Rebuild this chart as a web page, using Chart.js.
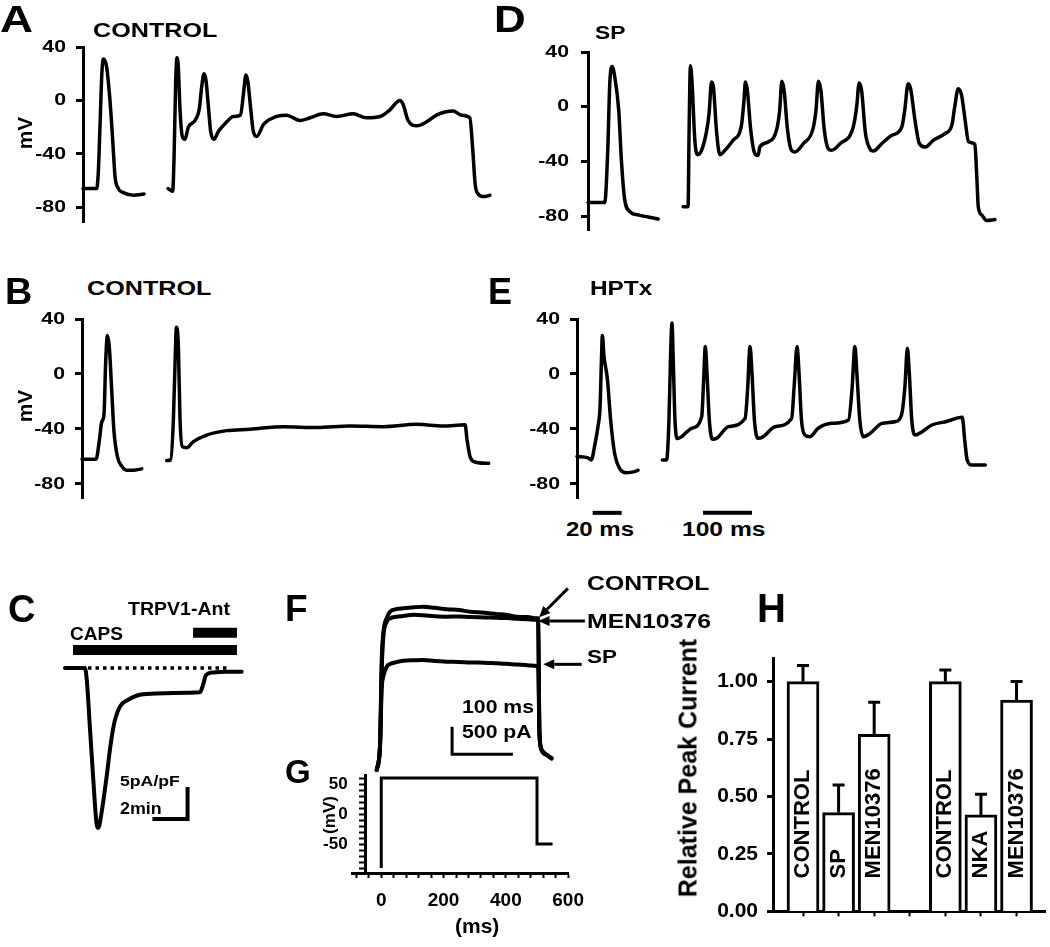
<!DOCTYPE html>
<html>
<head>
<meta charset="utf-8">
<script src="https://cdn.jsdelivr.net/npm/chart.js@4.4.1/dist/chart.umd.min.js"></script>
<style>
  body { margin: 0; background: #fff; }
  #page { position: relative; width: 1050px; height: 947px; overflow: hidden; font-family: 'Liberation Sans', Arial, sans-serif; color: #000; }
  #page canvas { position: absolute; }
  .lbl { position: absolute; font-weight: bold; line-height: 1; white-space: nowrap; transform-origin: 0 0; }
  .rot { position: absolute; font-weight: bold; line-height: 1; white-space: nowrap; transform: translate(-50%, -50%) rotate(-90deg); }
</style>
</head>
<body>
<div id="page">
  <canvas id="chartA" width="500" height="215" style="left:0;top:27px"></canvas>
  <canvas id="chartD" width="500" height="218" style="left:525px;top:32px"></canvas>
  <canvas id="chartB" width="500" height="219" style="left:0;top:299px"></canvas>
  <canvas id="chartE" width="500" height="219" style="left:525px;top:299px"></canvas>
  <canvas id="chartC" width="220" height="250" style="left:40px;top:600px"></canvas>
  <canvas id="chartF" width="260" height="205" style="left:330px;top:570px"></canvas>
  <canvas id="chartG" width="300" height="153" style="left:295px;top:755px"></canvas>
  <canvas id="chartH" width="360" height="296" style="left:690px;top:637px"></canvas>

  <div class="lbl" style="left:0;top:2px;font-size:36px;transform:scaleX(1.27)">A</div>
  <div class="lbl" style="left:93px;top:21px;font-size:19.5px;transform:scaleX(1.29)">CONTROL</div>
  <div class="rot" style="left:24px;top:133px;font-size:21px">mV</div>
  <div class="lbl" style="left:494px;top:2px;font-size:36px;transform:scaleX(1.22)">D</div>
  <div class="lbl" style="left:595px;top:23px;font-size:19px;transform:scaleX(1.2)">SP</div>

  <div class="lbl" style="left:5px;top:274px;font-size:36px;transform:scaleX(1.05)">B</div>
  <div class="lbl" style="left:87px;top:279px;font-size:19.5px;transform:scaleX(1.29)">CONTROL</div>
  <div class="rot" style="left:24px;top:406px;font-size:21px">mV</div>
  <div class="lbl" style="left:488px;top:274px;font-size:36px">E</div>
  <div class="lbl" style="left:590px;top:279px;font-size:19.5px;transform:scaleX(1.25)">HPTx</div>
  <div class="lbl" style="left:566px;top:519px;font-size:20px;transform:scaleX(1.2)">20 ms</div>
  <div class="lbl" style="left:682px;top:519px;font-size:20px;transform:scaleX(1.23)">100 ms</div>

  <div class="lbl" style="left:8px;top:590px;font-size:38px">C</div>
  <div class="lbl" style="left:128px;top:600px;font-size:18px;transform:scaleX(1.085)">TRPV1-Ant</div>
  <div class="lbl" style="left:70px;top:625px;font-size:18px;transform:scaleX(1.06)">CAPS</div>
  <div class="lbl" style="left:120px;top:773px;font-size:15.5px;transform:scaleX(1.14)">5pA/pF</div>
  <div class="lbl" style="left:120px;top:800px;font-size:17px;transform:scaleX(1.05)">2min</div>

  <div class="lbl" style="left:285px;top:590px;font-size:37px">F</div>
  <div class="lbl" style="left:587px;top:572px;font-size:21px;transform:scaleX(1.18)">CONTROL</div>
  <div class="lbl" style="left:587px;top:610px;font-size:21px;transform:scaleX(1.18)">MEN10376</div>
  <div class="lbl" style="left:587px;top:647px;font-size:19px;transform:scaleX(1.18)">SP</div>
  <div class="lbl" style="left:462px;top:698px;font-size:18px;transform:scaleX(1.18)">100 ms</div>
  <div class="lbl" style="left:462px;top:723px;font-size:18px;transform:scaleX(1.18)">500 pA</div>

  <div class="lbl" style="left:285px;top:755px;font-size:33px">G</div>
  <div class="rot" style="left:329px;top:815px;font-size:17px">(mV)</div>
  <div class="lbl" style="left:455px;top:915px;font-size:21px">(ms)</div>

  <div class="lbl" style="left:757px;top:588px;font-size:40px">H</div>
  <div class="rot" style="left:688px;top:768px;font-size:25px">Relative Peak Current</div>
</div>

<script>
// ---- data ----
// membrane potential traces: time (ms) / voltage (mV)
const aShortT = [0, 9.4, 10.5, 11.7, 13, 14, 15, 16.3, 18.6, 20.5, 22.1, 24.4, 27.8, 34.7, 42.1];
const aShortV = [-66, -66, -55, -20, 20, 31, 30, 25, 0, -30, -57, -66, -69, -71, -70];
const aLongT = [0, 9.5, 12.2, 15.6, 18.4, 21, 24.5, 29.3, 34.7, 41.5, 55, 64, 68.7, 73.5, 77.5, 83, 87, 94, 103, 120,
  133, 148, 154, 159, 163, 169, 174, 181, 195, 222, 242, 269, 290, 317, 344, 378, 405, 433, 453, 473,
  480, 490, 508, 528, 548, 582, 599, 616, 622, 627, 633, 644, 657];
const aLongV = [-66, -68, -45, 13, 32, 25, -7, -27, -29, -20, -15, -6, 10, 20, 15, -7, -23, -29, -23, -16,
  -12, -11, 5, 19, 14, -7, -23, -27, -18, -12, -11, -15, -13, -10, -12, -10, -13, -12, -7, 0,
  -3, -15, -19, -16, -11, -8, -11, -13, -37, -63, -70, -72, -71];

const dShortT = [0, 11.5, 13.6, 15, 16.6, 18.4, 21.2, 23, 25.3, 29.4, 34.5, 41.4, 48.3];
const dShortV = [-70, -70, -32, 17, 29.5, 22, -3, -39, -68, -77, -79, -80.5, -82];
const dLongT = [0, 10.2, 12.2, 15, 18.4, 24, 29.3, 37.5, 47.8, 53, 58, 62, 68, 75, 85, 102, 119, 124.5, 127, 131,
  138, 146, 153, 156.5, 173.5, 190.6, 197, 201.4, 206, 213, 221, 228, 245, 265, 271, 276, 281, 288, 296, 303,
  320, 347, 354, 359, 364, 372, 381, 388, 405, 425, 446, 452, 459, 464, 473, 482, 494, 510, 534, 548,
  554, 561, 568, 576, 582, 595, 599, 602, 609, 619, 636];
const dLongV = [-73, -73, -20, 30, 17, -24.5, -35, -32, -18, -5, 18, 14, -17, -35, -32, -24.5, -13.6, 6, 18, 12,
  -17, -34, -35.5, -29.4, -25.7, -17, -2.6, 18.6, 12, -17, -31.8, -33, -27, -16, -2.6, 18.6, 12, -17, -30.6, -31.8,
  -27, -14.8, 0, 17.4, 12, -19.6, -30.6, -32.3, -27, -21, -14.8, -2.6, 16.9, 13.2, -10, -27, -29.4, -24.5, -19.6, -13.6,
  0, 13.2, 8.4, -12, -25.7, -27.4, -51, -73, -79, -83, -82.4];

const bShortT = [0, 9.7, 12, 13.6, 15.2, 16.3, 17.5, 18.8, 20.5, 22, 24.4, 27.4, 30.8, 35.4, 41.2];
const bShortV = [-62, -62, -48, -35, -29, 8, 28, 20, -12, -41, -60, -67, -70, -70, -69];
const bLongT = [0, 8, 13.6, 17, 19.8, 23.8, 27.2, 31.9, 40.8, 54.4, 81.6, 122, 170, 238, 306, 374, 442, 510, 564, 609, 613, 619, 629, 657];
const bLongV = [-63, -62.5, -33.5, 8, 34, 20, -33.5, -52.8, -53.6, -49.2, -44.4, -41.2, -40.2, -38.3, -39, -37.8, -38.3, -36.6, -37.8, -37, -48, -60, -64, -65];

const eShortT = [0, 7.6, 9.9, 12.2, 14.5, 15.9, 16.8, 17.5, 18.6, 21, 23.2, 26, 29.4, 34, 39.8, 42.1];
const eShortV = [-60, -61, -62.5, -52, -38, -24, 8, 28, 13, -4, -33.5, -58, -68.6, -71.8, -71, -70];
const eLongT = [0, 8.8, 13.6, 17, 19.8, 22.5, 25.9, 30.6, 39.5, 59.9, 80.4, 84.4, 87.8, 91.2, 96, 102, 111, 135, 169, 174,
  179, 183, 188, 195, 206, 230, 264, 269, 275, 279, 284, 291, 301, 318, 346, 380, 387, 393, 397, 403,
  410, 424, 448, 475, 488, 495, 500, 504, 509, 516, 530, 550, 578, 612, 617, 622, 632, 659];
const eLongV = [-62.5, -62.5, -33.5, 15, 37, 8, -33.5, -47, -45.6, -39.5, -31, -4.4, 20, 0.5, -33.5, -47.5, -46.8, -38.3, -32.2, -11.6,
  20, 0.5, -33.5, -46.8, -45.6, -38.3, -32.2, -9.2, 20, 0.5, -33.5, -44.4, -45.6, -39.5, -35.9, -33.5, -11.6, 20, 0.5, -33.5,
  -45.6, -43.2, -35.9, -34.7, -29.8, -9.2, 18.7, 0.5, -33.5, -44.4, -42, -37.1, -34.7, -31.5, -48, -62.5, -66.2, -66.2];
const eBar20 = [10.8, 30.8];     // 20 ms scale bar (short sweep)
const eBar100 = [83, 183];       // 100 ms scale bar (long sweep)
const eBarLevel = -101;

const mvTicks = [-80, -40, 0, 40];

// capsaicin current: time (min) / current (pA/pF)
const cTime = [0, 1.05, 1.15, 1.32, 1.49, 1.67, 1.75, 1.93, 2.19, 2.4, 2.6, 2.9, 3.3, 3.8, 4.8, 5.7, 7.1, 7.26, 7.42, 7.8, 8.5, 9.3];
const cCurrent = [0, 0, -2, -9.7, -17.5, -24.5, -25, -22.5, -17, -12, -8.5, -6, -5, -4.3, -4, -3.9, -3.8, -2.7, -1.1, -0.7, -0.6, -0.6];
const capsWindow = [0.42, 9.05];
const antWindow = [6.74, 9.05];
const baselineWindow = [0.42, 8.65];
const cScaleT = [4.6, 6.45, 6.45];
const cScaleI = [-23.6, -23.6, -18.6];

// outward currents: time (ms) / current (pA)
const fTime = [-16.6, -6.3, -0.9, 4, 14.7, 25, 45, 66.6, 100, 129, 165, 202, 240, 275, 320, 358, 390, 421, 455, 483, 488, 492, 499, 515, 530];
const fControl = [0, 431, 2035, 2535, 2812, 2928, 2975, 2991, 3010, 3021, 3000, 2973, 2960, 2928, 2910, 2886, 2870, 2836, 2830, 2806, 2806, 685, 370, 278, 216];
const fMen = [0, 431, 1850, 2450, 2740, 2806, 2835, 2850, 2870, 2862, 2845, 2836, 2840, 2830, 2822, 2815, 2810, 2800, 2790, 2780, 2775, 685, 370, 278, 216];
const fSp = [0, 431, 1500, 1726, 1911, 1960, 1995, 2020, 2030, 2035, 2015, 2004, 2000, 1990, 1985, 1974, 1965, 1950, 1940, 1924, 1924, 685, 370, 278, 216];
const fScaleT = [219, 219, 409];
const fScaleI = [801, 290, 290];
const fArrowFrom = [[581, 3361], [634, 2757], [624, 1955]];
const fArrowTo = [[491, 2825], [489, 2757], [504, 1955]];

// voltage protocol
const gTime = [0, 0, 500, 500, 550];
const gMv = [-90, 60, 60, -50, -50];
const gMsTicks = [-80, -40, 0, 40, 80, 120, 160, 200, 240, 280, 320, 360, 400, 440, 480, 520, 560, 600];
const gMvTicks = [-90, -80, -70, -60, -50, -40, -30, -20, -10, 0, 10, 20, 30, 40, 50, 60];

// relative peak current bars
const hLabels = ['CONTROL', 'SP', 'MEN10376', 'CONTROL', 'NKA', 'MEN10376'];
const hSlots = [0, 1, 2, 4, 5, 6];
const hMeans = [1.00, 0.43, 0.77, 1.00, 0.42, 0.92];
const hSem = [0.07, 0.12, 0.14, 0.05, 0.09, 0.08];
const hTicks = [0, 0.25, 0.5, 0.75, 1.0];
const hSlotTicks = [0, 1, 2, 3, 4, 5, 6];

// ---- common setup ----
const FONT = "'Liberation Sans', Arial, sans-serif";
Chart.defaults.font.family = FONT;
Chart.defaults.font.weight = 'bold';
Chart.defaults.color = '#000';
Chart.defaults.animation = false;
Chart.defaults.plugins.legend.display = false;
Chart.defaults.plugins.tooltip.enabled = false;

const pts = (xs, ys) => xs.map((x, i) => ({ x: x, y: ys[i] }));

function trace(data, axis, width) {
    return {
        data: data,
        xAxisID: axis,
        borderColor: '#000',
        borderWidth: width,
        pointRadius: 0,
        cubicInterpolationMode: 'monotone',
        borderJoinStyle: 'round',
        borderCapStyle: 'round',
        clip: false
    };
}

function straight(data, axis, width, dash) {
    return {
        data: data,
        xAxisID: axis,
        borderColor: '#000',
        borderWidth: width,
        borderDash: dash || [],
        pointRadius: 0,
        tension: 0,
        borderCapStyle: 'butt',
        clip: false
    };
}

// y tick labels drawn stretched sideways, like the figure's lettering
const stretchedTicks = {
    id: 'stretchedTicks',
    afterDraw(chart, args, opts) {
        const scale = chart.scales.y;
        const ctx = chart.ctx;
        const axisX = opts.atX === undefined ? scale.right : chart.scales.x.getPixelForValue(opts.atX);
        ctx.save();
        ctx.font = 'bold ' + opts.size + 'px ' + FONT;
        ctx.fillStyle = '#000';
        ctx.textAlign = 'right';
        ctx.textBaseline = 'middle';
        scale.ticks.forEach(tick => {
            if (tick.label === '' || tick.label === undefined) return;
            ctx.save();
            ctx.translate(axisX - opts.gap, scale.getPixelForValue(tick.value));
            ctx.scale(opts.stretch, 1);
            ctx.fillText(tick.label, 0, 0);
            ctx.restore();
        });
        ctx.restore();
    }
};

const axisLine = { width: 3, color: '#000' };

// panels A, B, D, E: short sweep + long sweep on one mV axis
function traceChart(id, shortT, shortV, longT, longV, cfg) {
    const datasets = [
        trace(pts(shortT, shortV), 'x', 3.5),
        trace(pts(longT, longV), 'x2', 3.5)
    ].concat(cfg.extra || []);

    return new Chart(document.getElementById(id), {
        type: 'line',
        data: { datasets: datasets },
        options: {
            responsive: false,
            layout: { padding: { top: 20, bottom: 20, left: 0, right: 0 } },
            scales: {
                x: { type: 'linear', display: false, min: cfg.x1[0], max: cfg.x1[1] },
                x2: { type: 'linear', display: false, min: cfg.x2[0], max: cfg.x2[1] },
                y: {
                    min: cfg.yMin,
                    max: 40,
                    afterFit: s => { s.width = cfg.axisW; },
                    afterBuildTicks: s => { s.ticks = mvTicks.map(v => ({ value: v })); },
                    ticks: { display: false },
                    grid: { drawOnChartArea: false, tickLength: 7, tickWidth: 3, tickColor: '#000' },
                    border: axisLine
                }
            },
            plugins: { stretchedTicks: { size: 17, stretch: 1.25, gap: cfg.gap } }
        },
        plugins: [stretchedTicks]
    });
}

traceChart('chartA', aShortT, aShortV, aLongT, aLongV,
    { axisW: 83, yMin: -91, x1: [0, 287.6], x2: [-173.5, 677.6], gap: 17 });
traceChart('chartD', dShortT, dShortV, dLongT, dLongV,
    { axisW: 63, yMin: -90, x1: [0, 301], x2: [-193.9, 697.3], gap: 19 });
traceChart('chartB', bShortT, bShortV, bLongT, bLongV,
    { axisW: 82, yMin: -90.2, x1: [0, 288.3], x2: [-172.9, 680.2], gap: 17 });
traceChart('chartE', eShortT, eShortV, eLongT, eLongV,
    { axisW: 52, yMin: -90.2, x1: [0, 309], x2: [-174, 740], gap: 17,
      extra: [
          straight(pts(eBar20, [eBarLevel, eBarLevel]), 'x', 4),
          straight(pts(eBar100, [eBarLevel, eBarLevel]), 'x2', 4)
      ] });

// panel C: capsaicin-evoked current
new Chart(document.getElementById('chartC'), {
    type: 'line',
    data: {
        datasets: [
            trace(pts(cTime, cCurrent), 'x', 4),
            straight(pts(baselineWindow, [0, 0]), 'x', 3.5, [3.5, 4]),
            straight(pts(capsWindow, [2.8, 2.8]), 'x', 10),
            straight(pts(antWindow, [5.5, 5.5]), 'x', 10),
            straight(pts(cScaleT, cScaleI), 'x', 4)
        ]
    },
    options: {
        responsive: false,
        layout: { padding: 0 },
        scales: {
            x: { type: 'linear', display: false, min: -1.316, max: 10.263 },
            y: { display: false, min: -28.44, max: 10.625 }
        }
    }
});

// panel F: current traces with arrows
const arrowPlugin = {
    id: 'arrows',
    afterDatasetsDraw(chart) {
        const { ctx, scales: { x, y } } = chart;
        ctx.save();
        ctx.strokeStyle = '#000';
        ctx.fillStyle = '#000';
        ctx.lineWidth = 3;
        fArrowFrom.forEach((from, i) => {
            const to = fArrowTo[i];
            const x1 = x.getPixelForValue(from[0]), y1 = y.getPixelForValue(from[1]);
            const x2 = x.getPixelForValue(to[0]), y2 = y.getPixelForValue(to[1]);
            const ang = Math.atan2(y2 - y1, x2 - x1);
            const bx = x2 - 11 * Math.cos(ang), by = y2 - 11 * Math.sin(ang);
            ctx.beginPath();
            ctx.moveTo(x1, y1);
            ctx.lineTo(bx, by);
            ctx.stroke();
            ctx.beginPath();
            ctx.moveTo(x2, y2);
            ctx.lineTo(bx + 5 * Math.sin(ang), by - 5 * Math.cos(ang));
            ctx.lineTo(bx - 5 * Math.sin(ang), by + 5 * Math.cos(ang));
            ctx.closePath();
            ctx.fill();
        });
        ctx.restore();
    }
};

new Chart(document.getElementById('chartF'), {
    type: 'line',
    data: {
        datasets: [
            trace(pts(fTime, fControl), 'x', 4),
            trace(pts(fTime, fMen), 'x', 4),
            trace(pts(fTime, fSp), 'x', 4),
            straight(pts(fScaleT, fScaleI), 'x', 3)
        ]
    },
    options: {
        responsive: false,
        layout: { padding: 0 },
        scales: {
            x: { type: 'linear', display: false, min: -162.5, max: 650 },
            y: { display: false, min: -92.5, max: 3700 }
        }
    },
    plugins: [arrowPlugin]
});

// panel G: voltage step protocol
new Chart(document.getElementById('chartG'), {
    type: 'line',
    data: { datasets: [straight(pts(gTime, gMv), 'x', 3)] },
    options: {
        responsive: false,
        layout: { padding: { left: 57.6, right: 20, top: 20, bottom: 0 } },
        scales: {
            x: {
                type: 'linear',
                position: 'bottom',
                min: -92,
                max: 600,
                afterFit: s => { s.height = 35; },
                afterBuildTicks: s => { s.ticks = gMsTicks.map(v => ({ value: v })); },
                ticks: { font: { size: 19 }, padding: 11, maxRotation: 0, autoSkip: false,
                         callback: v => (v >= 0 && v % 200 === 0 ? v : '') },
                grid: { drawOnChartArea: false, tickLength: 5, tickWidth: 2, tickColor: '#000', lineWidth: 1 },
                border: axisLine
            },
            y: {
                position: { x: -50 },
                min: -98.3,
                max: 65,
                afterBuildTicks: s => { s.ticks = gMvTicks.map(v => ({ value: v })); },
                ticks: { display: false, callback: v => (v % 50 === 0 ? String(v) : '') },
                grid: { drawOnChartArea: false, tickLength: 5, tickWidth: 2, tickColor: '#000' },
                border: axisLine
            }
        },
        plugins: { stretchedTicks: { size: 17, stretch: 1, gap: 18, atX: -50 } }
    },
    plugins: [stretchedTicks]
});

// panel H: bar chart with error bars and in-bar labels
const hDecor = {
    id: 'hDecor',
    afterDatasetsDraw(chart) {
        const { ctx, scales: { x, y } } = chart;
        ctx.save();
        ctx.lineWidth = 3;
        ctx.strokeStyle = '#000';
        ctx.fillStyle = '#000';
        hSlots.forEach((slot, i) => {
            const cx = x.getPixelForValue(slot);
            const top = y.getPixelForValue(hMeans[i]);
            const tip = y.getPixelForValue(hMeans[i] + hSem[i]);
            ctx.beginPath();
            ctx.moveTo(cx, top);
            ctx.lineTo(cx, tip);
            ctx.moveTo(cx - 6, tip);
            ctx.lineTo(cx + 6, tip);
            ctx.stroke();

            ctx.save();
            ctx.translate(cx + 6, y.getPixelForValue(0) - 33);
            ctx.rotate(-Math.PI / 2);
            ctx.font = 'bold 22px ' + FONT;
            ctx.textAlign = 'left';
            ctx.textBaseline = 'alphabetic';
            ctx.fillText(hLabels[i], 0, 0);
            ctx.restore();
        });
        ctx.restore();
    }
};

new Chart(document.getElementById('chartH'), {
    type: 'bar',
    data: {
        datasets: [{
            data: pts(hSlots, hMeans),
            backgroundColor: '#fff',
            borderColor: '#000',
            borderWidth: 3,
            barThickness: 32
        }]
    },
    options: {
        responsive: false,
        layout: { padding: { top: 20, right: 5, left: 0, bottom: 0 } },
        scales: {
            x: {
                type: 'linear',
                offset: false,
                min: -0.843,
                max: 6.8,
                afterFit: s => { s.height = 20; },
                afterBuildTicks: s => { s.ticks = hSlotTicks.map(v => ({ value: v })); },
                ticks: { display: false },
                grid: { offset: false, drawOnChartArea: false, tickLength: 5, tickWidth: 2, tickColor: '#000', lineWidth: 1 },
                border: axisLine
            },
            y: {
                min: 0,
                max: 1.1,
                afterFit: s => { s.width = 83; },
                afterBuildTicks: s => { s.ticks = hTicks.map(v => ({ value: v })); },
                ticks: { font: { size: 21 }, padding: 9, callback: v => v.toFixed(2) },
                grid: { drawOnChartArea: false, tickLength: 6, tickWidth: 3, tickColor: '#000' },
                border: axisLine
            }
        }
    },
    plugins: [hDecor]
});
</script>
</body>
</html>
